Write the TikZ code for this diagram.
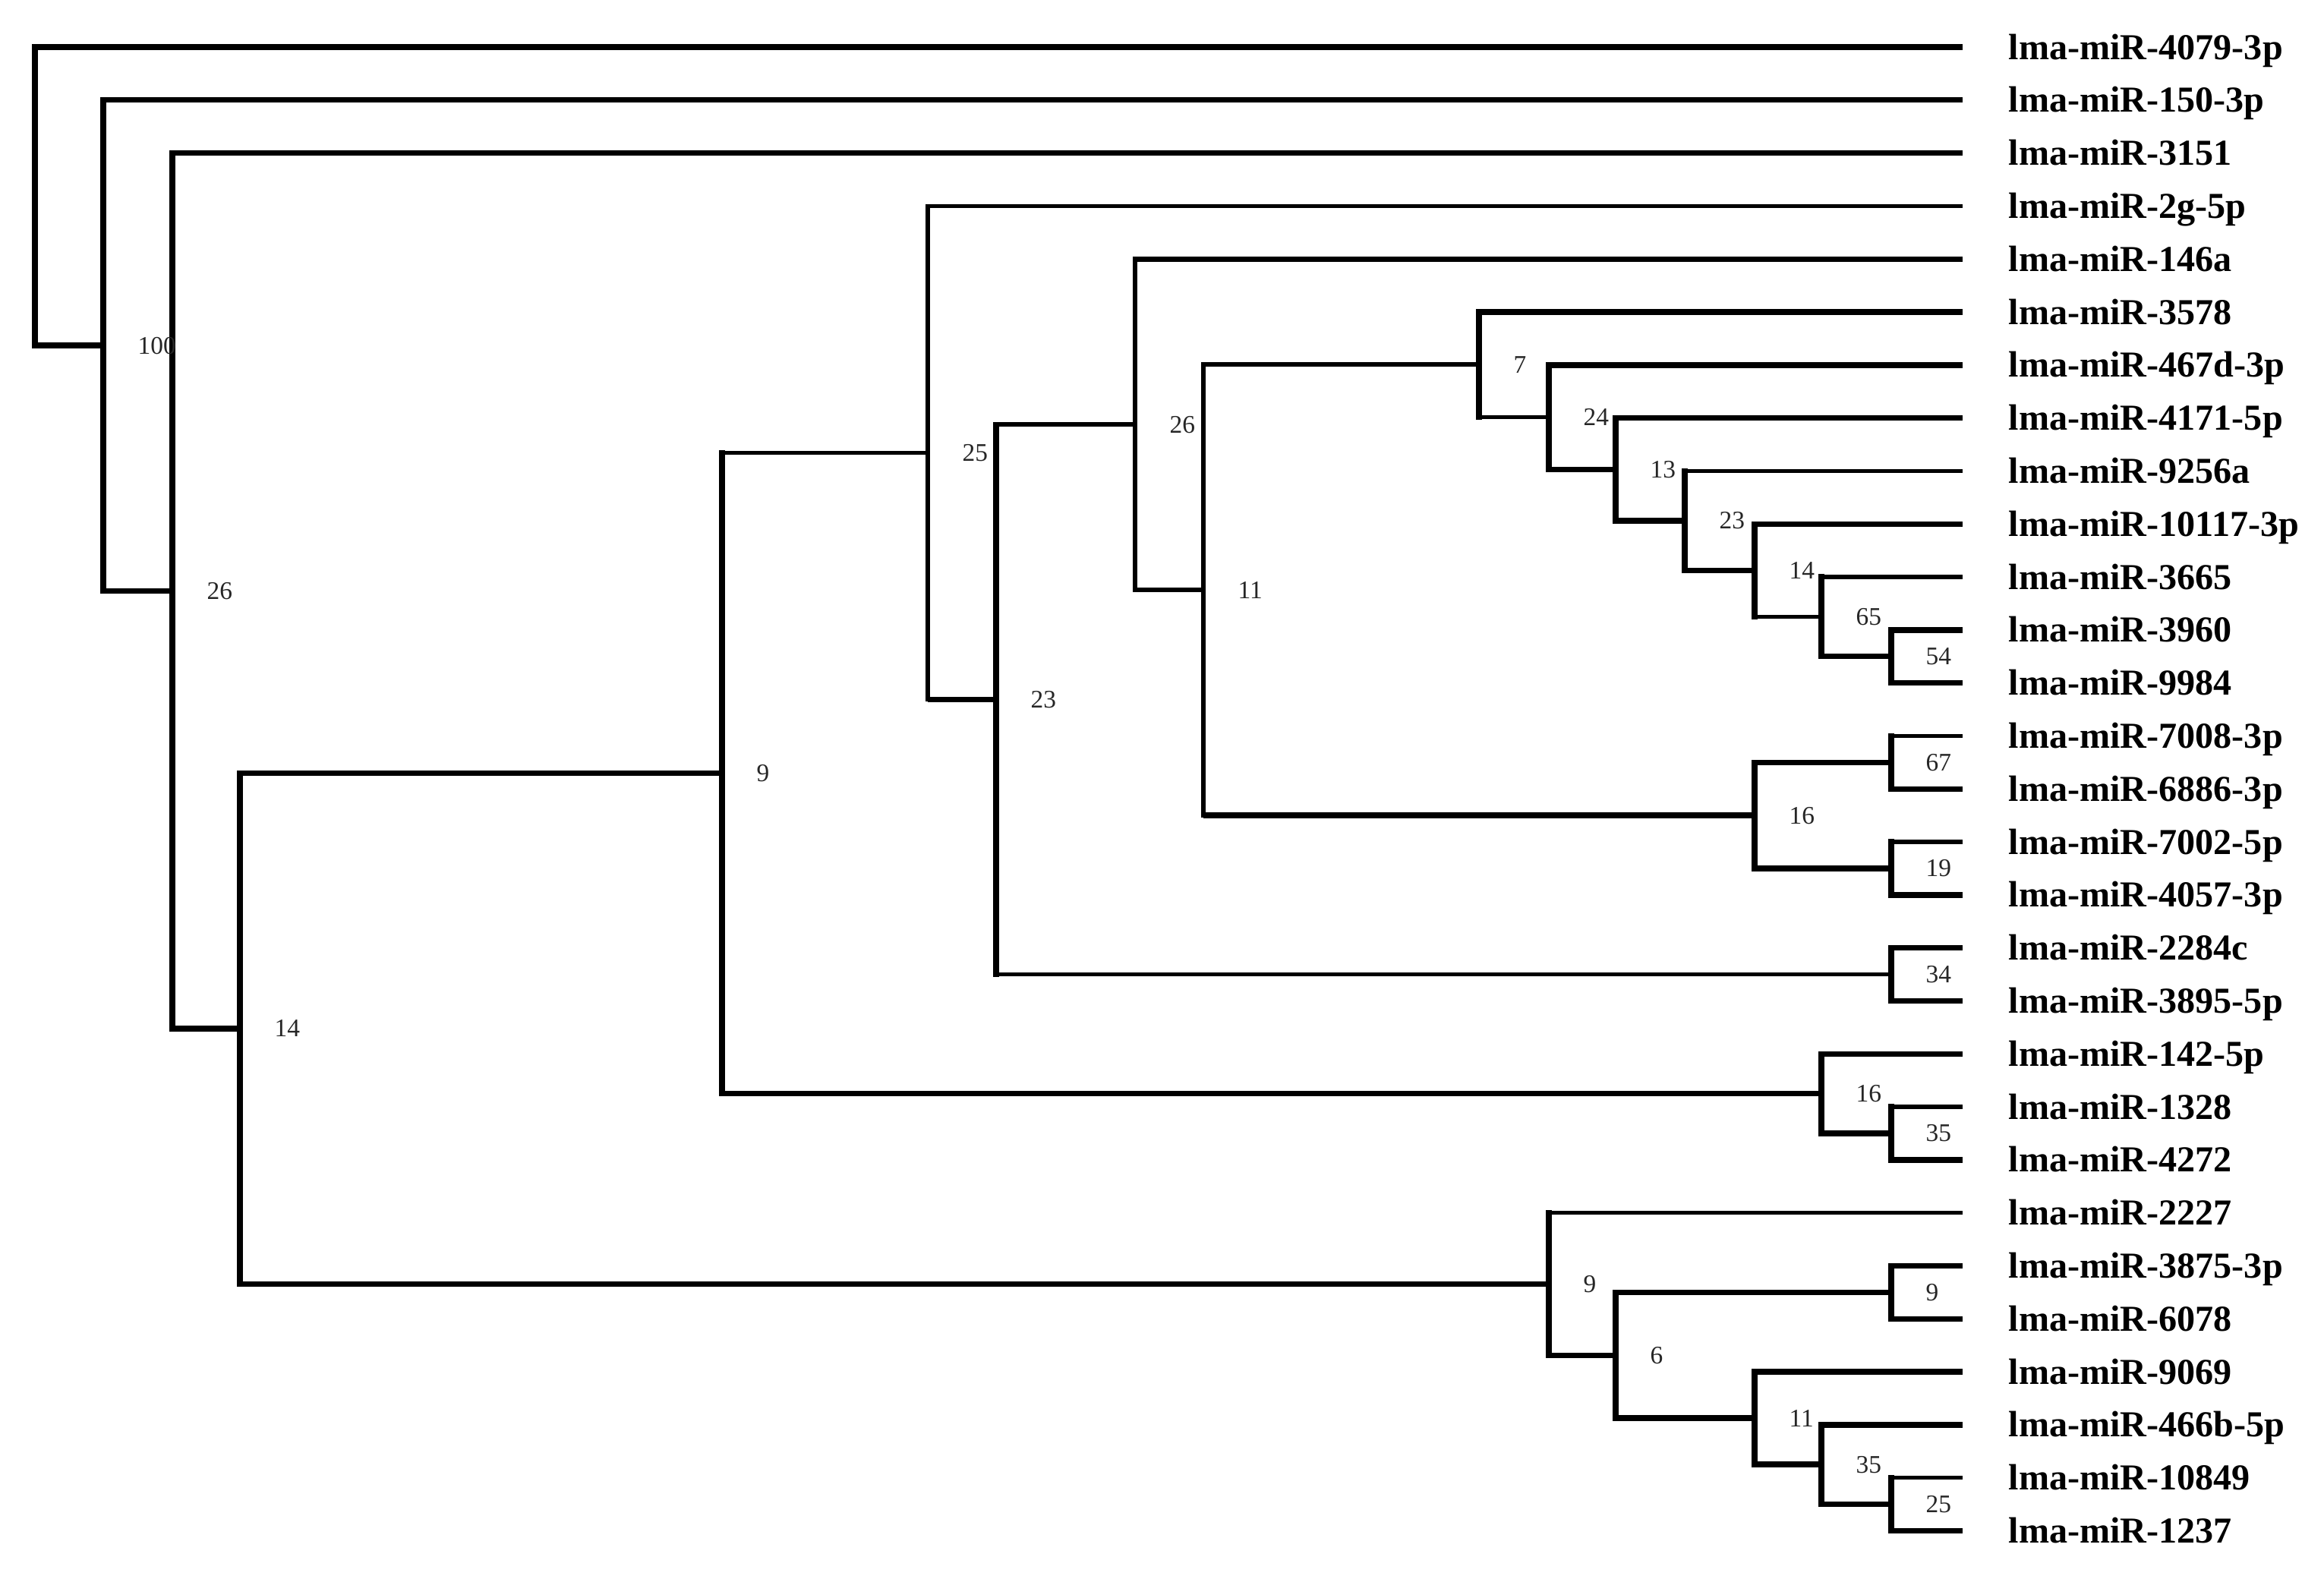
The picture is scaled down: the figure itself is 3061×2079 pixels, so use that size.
\documentclass[tikz,border=0pt]{standalone}
\usepackage{fontspec}
\setmainfont{Liberation Serif}
\usetikzlibrary{calc}
\tikzset{
  thk/.style={line width=2.1pt},
  thn/.style={line width=1.6pt},
  vert/.style={line cap=rect},
  leaf/.style={inner sep=0pt, anchor=base west, font=\fontsize{13.7}{16}\selectfont\bfseries},
  blab/.style={inner sep=0pt, anchor=base west, text=black!85, font=\fontsize{9.5}{11}\selectfont},
}
\newcommand\mkclade[4]{%
  \path ($(#3)!0.5!(#4)$) coordinate (#1m);
  \coordinate (#1) at (#2,0 |- #1m);
}
\newcommand\brk[6]{%
  \draw[#4, vert] (#1 |- #2) -- (#1 |- #3);
  \draw[#5] (#1 |- #2) -- (#2);
  \draw[#6] (#1 |- #3) -- (#3);
}
\newcommand\blabel[2]{\node[blab] (b#1) at ($(#1)+(45,11)$) {#2};}
\begin{document}
\begin{tikzpicture}[x=0.1mm, y=-0.1mm]
\useasboundingbox (0,0) rectangle (3061,2079);
% leaves
\foreach \i/\t in {1/lma-miR-4079-3p,2/lma-miR-150-3p,3/lma-miR-3151,4/lma-miR-2g-5p,5/lma-miR-146a,6/lma-miR-3578,7/lma-miR-467d-3p,8/lma-miR-4171-5p,9/lma-miR-9256a,10/lma-miR-10117-3p,11/lma-miR-3665,12/lma-miR-3960,13/lma-miR-9984,14/lma-miR-7008-3p,15/lma-miR-6886-3p,16/lma-miR-7002-5p,17/lma-miR-4057-3p,18/lma-miR-2284c,19/lma-miR-3895-5p,20/lma-miR-142-5p,21/lma-miR-1328,22/lma-miR-4272,23/lma-miR-2227,24/lma-miR-3875-3p,25/lma-miR-6078,26/lma-miR-9069,27/lma-miR-466b-5p,28/lma-miR-10849,29/lma-miR-1237}{
  \coordinate (l\i) at (2585, {62+69.8*(\i-1)});
  \node[leaf] (t\i) at ($(l\i)+(60,16)$) {\t};
}
% clades (bottom-up)
\mkclade{R}{2491}{l12}{l13}
\mkclade{Q}{2399}{l11}{R}
\mkclade{P}{2311}{l10}{Q}
\mkclade{O}{2219}{l9}{P}
\mkclade{N}{2128}{l8}{O}
\mkclade{M}{2040}{l7}{N}
\mkclade{L}{1948}{l6}{M}
\mkclade{T}{2491}{l14}{l15}
\mkclade{U}{2491}{l16}{l17}
\mkclade{S}{2311}{T}{U}
\mkclade{K}{1585}{L}{S}
\mkclade{I}{1495}{l5}{K}
\mkclade{J}{2491}{l18}{l19}
\mkclade{H}{1312}{I}{J}
\mkclade{F}{1222}{l4}{H}
\mkclade{V}{2491}{l21}{l22}
\mkclade{G}{2399}{l20}{V}
\mkclade{D}{951}{F}{G}
\mkclade{W}{2491}{l24}{l25}
\mkclade{AA}{2491}{l28}{l29}
\mkclade{Z}{2399}{l27}{AA}
\mkclade{Y}{2311}{l26}{Z}
\mkclade{X}{2128}{W}{Y}
\mkclade{E}{2040}{l23}{X}
\mkclade{C}{316}{D}{E}
\mkclade{B}{227}{l3}{C}
\mkclade{A}{136}{l2}{B}
\mkclade{root}{46}{l1}{A}
% branches
\brk{root}{l1}{A}{thk}{thk}{thk}
\brk{A}{l2}{B}{thk}{thk}{thk}
\brk{B}{l3}{C}{thk}{thk}{thk}
\brk{C}{D}{E}{thk}{thk}{thk}
\brk{D}{F}{G}{thk}{thn}{thk}
\brk{F}{l4}{H}{thn}{thn}{thk}
\brk{H}{I}{J}{thk}{thn}{thn}
\brk{I}{l5}{K}{thn}{thk}{thn}
\brk{K}{L}{S}{thn}{thn}{thk}
\brk{L}{l6}{M}{thk}{thk}{thn}
\brk{M}{l7}{N}{thk}{thk}{thk}
\brk{N}{l8}{O}{thk}{thk}{thk}
\brk{O}{l9}{P}{thk}{thn}{thk}
\brk{P}{l10}{Q}{thk}{thk}{thn}
\brk{Q}{l11}{R}{thk}{thn}{thk}
\brk{R}{l12}{l13}{thk}{thk}{thk}
\brk{S}{T}{U}{thk}{thk}{thk}
\brk{T}{l14}{l15}{thk}{thn}{thk}
\brk{U}{l16}{l17}{thk}{thn}{thk}
\brk{J}{l18}{l19}{thk}{thk}{thk}
\brk{G}{l20}{V}{thk}{thk}{thk}
\brk{V}{l21}{l22}{thk}{thn}{thk}
\brk{E}{l23}{X}{thk}{thn}{thk}
\brk{X}{W}{Y}{thk}{thk}{thk}
\brk{W}{l24}{l25}{thk}{thk}{thk}
\brk{Y}{l26}{Z}{thk}{thk}{thk}
\brk{Z}{l27}{AA}{thk}{thk}{thk}
\brk{AA}{l28}{l29}{thk}{thn}{thk}
% bootstrap labels
\blabel{A}{100}
\blabel{B}{26}
\blabel{C}{14}
\blabel{D}{9}
\blabel{E}{9}
\blabel{F}{25}
\blabel{G}{16}
\blabel{H}{23}
\blabel{I}{26}
\blabel{J}{34}
\blabel{K}{11}
\blabel{L}{7}
\blabel{M}{24}
\blabel{N}{13}
\blabel{O}{23}
\blabel{P}{14}
\blabel{Q}{65}
\blabel{R}{54}
\blabel{S}{16}
\blabel{T}{67}
\blabel{U}{19}
\blabel{V}{35}
\blabel{W}{9}
\blabel{X}{6}
\blabel{Y}{11}
\blabel{Z}{35}
\blabel{AA}{25}
\end{tikzpicture}
\end{document}
